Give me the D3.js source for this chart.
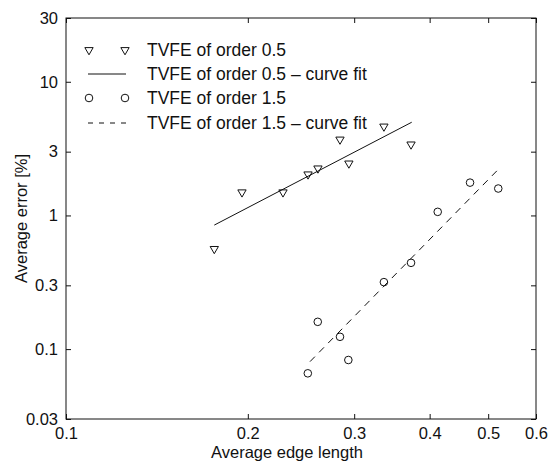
<!DOCTYPE html>
<html><head><meta charset="utf-8">
<script src="https://cdn.jsdelivr.net/npm/d3@7"></script>
<style>
body{margin:0;background:#fff;}
text{font-family:"Liberation Sans",Arial,Helvetica,sans-serif;fill:#111;}
</style></head>
<body><svg id="c" width="548" height="464"></svg>
<script>
// Data
const order05X = [0.176, 0.1956, 0.2287, 0.2516, 0.2613, 0.2842, 0.294, 0.336, 0.3726];
const order05Y = [0.562, 1.49, 1.49, 2.03, 2.25, 3.70, 2.45, 4.63, 3.40];
const fit05X = [0.176, 0.3736];
const fit05Y = [0.847, 4.98];
const order15X = [0.2514, 0.2611, 0.2842, 0.2934, 0.336, 0.3726, 0.4125, 0.4666, 0.5196];
const order15Y = [0.0659, 0.160, 0.1236, 0.0829, 0.317, 0.442, 1.064, 1.76, 1.59];
const fit15X = [0.2535, 0.5196];
const fit15Y = [0.0806, 2.21];
const xTicks = [0.1, 0.2, 0.3, 0.4, 0.5, 0.6];
const xTickLabels = ["0.1", "0.2", "0.3", "0.4", "0.5", "0.6"];
const yTicks = [0.03, 0.1, 0.3, 1, 3, 10, 30];
const yTickLabels = ["0.03", "0.1", "0.3", "1", "3", "10", "30"];
const legendLabels = ["TVFE of order 0.5", "TVFE of order 0.5 \u2013 curve fit", "TVFE of order 1.5", "TVFE of order 1.5 \u2013 curve fit"];
const xTitle = "Average edge length";
const yTitle = "Average error [%]";

const L = 66, R = 536, T = 18, B = 419;
const svg = d3.select("#c");
const x = d3.scaleLog().domain([0.1, 0.6]).range([L, R]);
const y = d3.scaleLog().domain([0.03, 30]).range([B, T]);
const ink = "#111";

// frame
svg.append("rect").attr("x", L).attr("y", T).attr("width", R - L).attr("height", B - T)
  .attr("fill", "none").attr("stroke", ink).attr("stroke-width", 1);

const fmtX = d => xTickLabels[xTicks.indexOf(d)];
const fmtY = d => yTickLabels[yTicks.indexOf(d)];

function styleAxis(g) {
  g.select(".domain").remove();
  g.selectAll(".tick line").attr("stroke", ink);
  g.selectAll("text").style("font-size", "16.5px").attr("fill", ink);
}
svg.append("g").attr("transform", `translate(0,${B})`)
  .call(d3.axisBottom(x).tickValues(xTicks).tickFormat(fmtX).tickSizeInner(-5).tickSizeOuter(0).tickPadding(8))
  .call(styleAxis);
svg.append("g").attr("transform", `translate(0,${T})`)
  .call(d3.axisTop(x).tickValues(xTicks).tickFormat("").tickSizeInner(-5).tickSizeOuter(0))
  .call(styleAxis);
svg.append("g").attr("transform", `translate(${L},0)`)
  .call(d3.axisLeft(y).tickValues(yTicks).tickFormat(fmtY).tickSizeInner(-5).tickSizeOuter(0).tickPadding(8))
  .call(styleAxis);
svg.append("g").attr("transform", `translate(${R},0)`)
  .call(d3.axisRight(y).tickValues(yTicks).tickFormat("").tickSizeInner(-5).tickSizeOuter(0))
  .call(styleAxis);

// titles
svg.append("text").attr("x", 287).attr("y", 458).attr("text-anchor", "middle")
  .style("font-size", "16.5px").text(xTitle);
svg.append("text").attr("transform", `translate(27,${(T + B) / 2}) rotate(-90)`).attr("text-anchor", "middle")
  .style("font-size", "16.5px").text(yTitle);

const line = d3.line().x(d => x(d[0])).y(d => y(d[1]));
svg.append("path").datum(d3.zip(fit05X, fit05Y)).attr("d", line)
  .attr("fill", "none").attr("stroke", ink).attr("stroke-width", 1);
svg.append("path").datum(d3.zip(fit15X, fit15Y)).attr("d", line)
  .attr("fill", "none").attr("stroke", ink).attr("stroke-width", 1).attr("stroke-dasharray", "7,6");

const tri = d3.symbol().type(d3.symbolTriangle).size(30);
function drawTri(g, cx, cy) {
  g.append("path").attr("d", tri()).attr("transform", `translate(${cx},${cy}) rotate(180)`)
    .attr("fill", "none").attr("stroke", ink).attr("stroke-width", 1);
}
function drawCirc(g, cx, cy) {
  g.append("circle").attr("cx", cx).attr("cy", cy).attr("r", 3.8)
    .attr("fill", "none").attr("stroke", ink).attr("stroke-width", 1);
}
const pts = svg.append("g");
d3.zip(order05X, order05Y).forEach(d => drawTri(pts, x(d[0]), y(d[1])));
d3.zip(order15X, order15Y).forEach(d => drawCirc(pts, x(d[0]), y(d[1])));

// legend
const rowY = [50, 74, 98, 123];
const lg = svg.append("g");
drawTri(lg, 89, rowY[0]); drawTri(lg, 125, rowY[0]);
lg.append("line").attr("x1", 88).attr("x2", 126).attr("y1", rowY[1]).attr("y2", rowY[1]).attr("stroke", ink);
drawCirc(lg, 89, rowY[2]); drawCirc(lg, 125, rowY[2]);
lg.append("line").attr("x1", 88).attr("x2", 126).attr("y1", rowY[3]).attr("y2", rowY[3]).attr("stroke", ink).attr("stroke-dasharray", "5,6");
legendLabels.forEach((t, i) => {
  lg.append("text").attr("x", 147).attr("y", rowY[i]).attr("dy", "0.35em").style("font-size", "17.5px").text(t);
});
</script></body></html>
